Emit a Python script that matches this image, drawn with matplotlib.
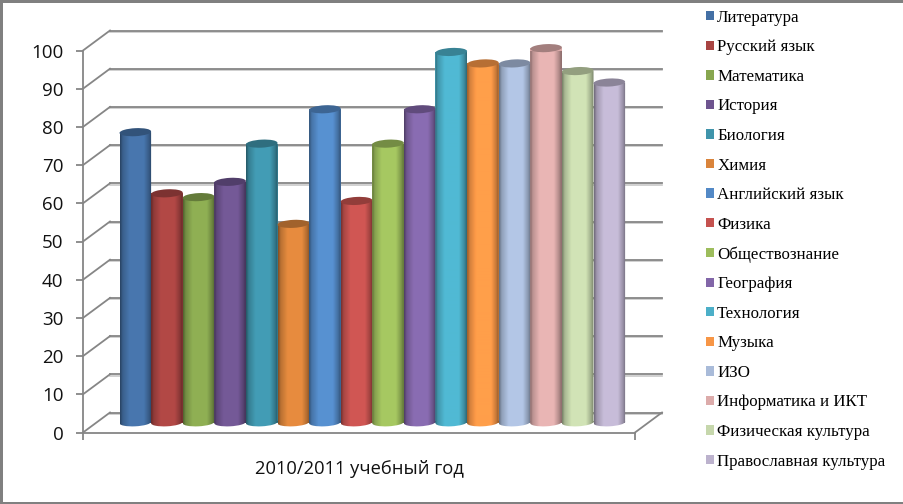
import matplotlib
matplotlib.use("Agg")
import matplotlib.pyplot as plt
import numpy as np
from matplotlib.colors import to_rgb
from matplotlib.lines import Line2D
from matplotlib.patches import Patch, PathPatch
from matplotlib.path import Path
from matplotlib.transforms import Affine2D, IdentityTransform, ScaledTranslation

subjects = ["Литература", "Русский язык", "Математика", "История", "Биология", "Химия",
            "Английский язык", "Физика", "Обществознание", "География", "Технология",
            "Музыка", "ИЗО", "Информатика и ИКТ", "Физическая культура",
            "Православная культура"]
values = [76, 60, 59, 63, 73, 52, 82, 58, 73, 82, 97, 94, 94, 98, 92, 89]
bar_colors = ["#4470a5", "#a84442", "#87a64f", "#6e548f", "#3f94ab", "#da843b",
              "#5389c6", "#c5524f", "#9dbd5c", "#8266a8", "#4cafc8", "#f79646",
              "#a9bbd9", "#dcabaa", "#c6d7ac", "#bcb2cd"]
y_ticks = list(range(0, 101, 10))
period = "2010/2011 учебный год"

W, H = 904, 504
GRID = "#868686"
SANS = "Open Sans"
SERIF = "Liberation Serif"

fig = plt.figure(figsize=(W / 100, H / 100), dpi=100)
ax = fig.add_axes([83 / W, (H - 432.5) / H, 552 / W, 382 / H])
ax.patch.set_alpha(0)

step = 31.6
x_left = -(135.3 - 83) / step
x_right = x_left + 552 / step
ax.set_xlim(x_left, x_right)
ax.set_ylim(0, 100)


def shifted(dx, dy):
    # depth of the 3d box is only a shift in pixels
    return ax.transData + ScaledTranslation(dx / 100, dy / 100, fig.dpi_scale_trans)


back = shifted(27, 20)
back_soft = shifted(27, 18.8)
mid = shifted(0, 10)
pixels = IdentityTransform()

# back wall, side wall and floor
for t in y_ticks:
    ax.plot([x_left, x_right], [t, t], color="#c8c8c8", lw=1.2, transform=back_soft,
            clip_on=False, zorder=1)
    ax.plot([x_left, x_right], [t, t], color=GRID, lw=1.3, transform=back,
            clip_on=False, zorder=1.1)
    x0, y0 = ax.transData.transform((x_left, t))
    ax.add_artist(Line2D([x0, x0 + 27], [y0, y0 + 20], color=GRID, lw=1.3, transform=pixels,
                         zorder=1.1, clip_on=False))
x0, y0 = ax.transData.transform((x_right, 0))
ax.add_artist(Line2D([x0, x0 + 27], [y0, y0 + 20], color=GRID, lw=1.3, transform=pixels,
                     zorder=1.1, clip_on=False))

# cylinders
x = np.arange(len(values))
ax.bar(x, values, width=1.0, color=bar_colors, transform=mid, clip_on=False, zorder=2)
shade = np.interp(np.linspace(0, 1, 64), [0, 0.08, 0.3, 0.75, 0.92, 1],
                  [0.6, 0.85, 1.06, 1.06, 0.8, 0.6])
tilt = 0.4
for i, v in enumerate(values):
    rgb = np.array(to_rgb(bar_colors[i]))
    grad = np.clip(shade[None, :, None] * rgb[None, None, :], 0, 1)
    im = ax.imshow(grad, extent=(i - 0.5, i + 0.5, -1.3, v), aspect="auto",
                   transform=mid, zorder=3 + i * 0.01, interpolation="bilinear")
    rect = Path([(i - 0.5, 0), (i + 0.5, 0), (i + 0.5, v), (i - 0.5, v), (i - 0.5, 0)], closed=True)
    foot = Path.unit_circle().transformed(Affine2D.from_values(0.5, tilt * 0.5, 0, 1.0, i, 0))
    im.set_clip_path(Path.make_compound_path(rect, foot), mid)
    im.set_clip_on(True)
    top = Path.unit_circle().transformed(Affine2D.from_values(0.5, tilt * 0.5, 0, 1.05, i, v))
    ax.add_patch(PathPatch(top, facecolor=rgb * 0.74, edgecolor="none", transform=mid,
                           clip_on=False, zorder=3.005 + i * 0.01))

ax.set_xlim(x_left, x_right)
ax.set_ylim(0, 100)
ax.set_yticks(y_ticks)
ax.set_xticks([x_left, x_right])
ax.set_xticklabels([])
ax.set_xlabel(period, fontsize=13.2, family=SANS, labelpad=11, color="#111111")
ax.tick_params(axis="both", color=GRID, width=1.3, length=5)
ax.tick_params(axis="y", labelsize=13.5, labelcolor="#111111", pad=9)
for lab in ax.get_yticklabels():
    lab.set_family(SANS)
for s in ("top", "right"):
    ax.spines[s].set_visible(False)
for s in ("left", "bottom"):
    ax.spines[s].set_color(GRID)
    ax.spines[s].set_linewidth(1.3)

handles = [Patch(facecolor=c, edgecolor="none") for c in bar_colors]
fig.legend(handles, subjects, loc="upper left", bbox_to_anchor=(699 / W, 1 - 3 / H),
           frameon=False, prop={"family": SERIF, "size": 12.2}, handlelength=0.47,
           handleheight=0.47, handletextpad=0.2, labelspacing=0.8, borderpad=0.4,
           borderaxespad=0)

# image frame
for xs, ys, lw in (([1.5, 1.5], [0, H], 3), ([0, W], [H - 1, H - 1], 3), ([0, W], [1, 1], 3)):
    fig.add_artist(Line2D(np.array(xs) / W, 1 - np.array(ys) / H, color="#808080", lw=lw * 0.72))

fig.savefig("out.png", dpi=100)
